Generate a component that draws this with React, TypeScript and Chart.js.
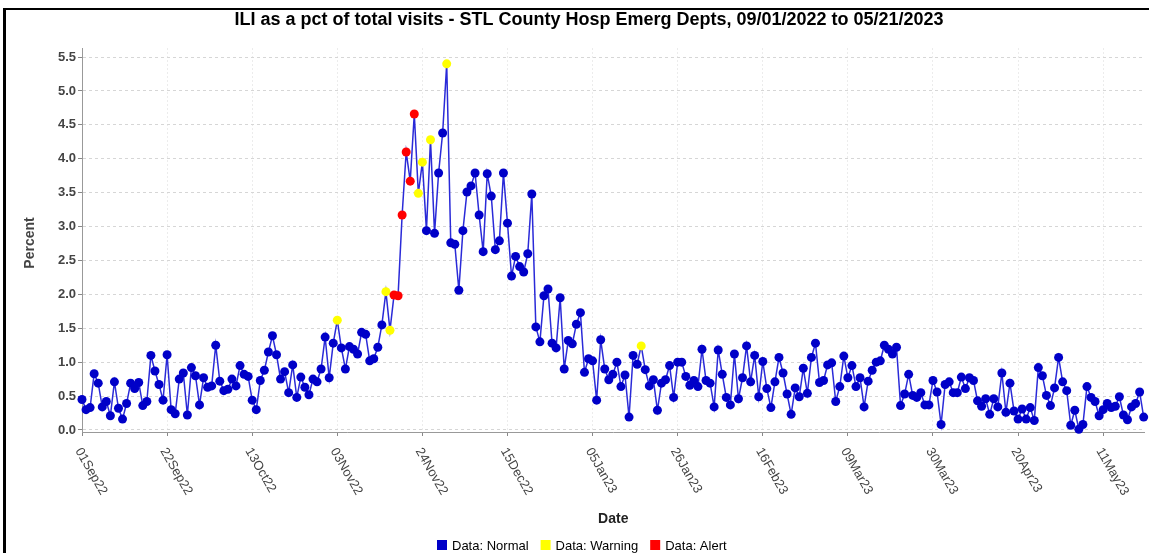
import React, { useEffect, useRef } from "react";
import { Chart, registerables } from "chart.js";

Chart.register(...registerables);

const TITLE = "ILI as a pct of total visits - STL County Hosp Emerg Depts, 09/01/2022 to 05/21/2023";
const Y_TITLE = "Percent";
const X_TITLE = "Date";

// day index (0 = 01Sep22) of each x-axis tick and its label
const tickDays = [0, 21, 42, 63, 84, 105, 126, 147, 168, 189, 210, 231, 252];
const tickLabels = ["01Sep22", "22Sep22", "13Oct22", "03Nov22", "24Nov22", "15Dec22", "05Jan23", "26Jan23", "16Feb23", "09Mar23", "30Mar23", "20Apr23", "11May23"];
const yTicks = [0, 0.5, 1, 1.5, 2, 2.5, 3, 3.5, 4, 4.5, 5, 5.5];

// daily ILI percent, 09/01/2022 .. 05/21/2023
const septValues = [0.45, 0.30, 0.33, 0.83, 0.69, 0.34, 0.42, 0.21, 0.71, 0.32, 0.16, 0.39, 0.69, 0.61, 0.70, 0.36, 0.42, 1.10, 0.87, 0.67, 0.44, 1.11, 0.30, 0.24, 0.75, 0.84, 0.22, 0.92, 0.80, 0.37];
const octValues = [0.77, 0.63, 0.65, 1.25, 0.72, 0.58, 0.60, 0.75, 0.65, 0.95, 0.82, 0.79, 0.44, 0.30, 0.73, 0.88, 1.15, 1.39, 1.11, 0.75, 0.86, 0.55, 0.96, 0.48, 0.78, 0.63, 0.52, 0.75, 0.71, 0.90, 1.37];
const novValues = [0.77, 1.28, 1.62, 1.21, 0.90, 1.23, 1.19, 1.12, 1.44, 1.41, 1.02, 1.05, 1.22, 1.55, 2.04, 1.47, 1.99, 1.98, 3.17, 4.10, 3.67, 4.66, 3.49, 3.95, 2.94, 4.28, 2.90, 3.79, 4.38, 5.40];
const decValues = [2.76, 2.74, 2.06, 2.94, 3.51, 3.60, 3.79, 3.17, 2.63, 3.78, 3.45, 2.66, 2.79, 3.79, 3.05, 2.27, 2.56, 2.41, 2.33, 2.60, 3.48, 1.52, 1.30, 1.98, 2.08, 1.28, 1.21, 1.95, 0.90, 1.32, 1.27];
const janValues = [1.56, 1.73, 0.85, 1.05, 1.02, 0.44, 1.33, 0.90, 0.74, 0.82, 1.00, 0.64, 0.81, 0.19, 1.10, 0.97, 1.24, 0.89, 0.65, 0.74, 0.29, 0.69, 0.74, 0.95, 0.48, 1.00, 1.00, 0.79, 0.66, 0.73, 0.64];
const febValues = [1.19, 0.73, 0.69, 0.34, 1.18, 0.82, 0.48, 0.37, 1.12, 0.46, 0.77, 1.24, 0.71, 1.10, 0.49, 1.01, 0.61, 0.33, 0.71, 1.07, 0.84, 0.53, 0.23, 0.62, 0.49, 0.91, 0.54, 1.07];
const marValues = [1.28, 0.70, 0.73, 0.96, 0.99, 0.42, 0.64, 1.09, 0.77, 0.95, 0.64, 0.77, 0.34, 0.72, 0.88, 1.00, 1.02, 1.25, 1.19, 1.12, 1.22, 0.36, 0.53, 0.82, 0.51, 0.48, 0.55, 0.37, 0.37, 0.73, 0.56];
const aprValues = [0.08, 0.67, 0.71, 0.55, 0.55, 0.78, 0.61, 0.77, 0.73, 0.43, 0.35, 0.46, 0.23, 0.46, 0.34, 0.84, 0.26, 0.69, 0.28, 0.16, 0.31, 0.16, 0.33, 0.14, 0.92, 0.80, 0.51, 0.36, 0.62, 1.07];
const mayValues = [0.71, 0.58, 0.07, 0.29, 0.01, 0.08, 0.64, 0.48, 0.42, 0.21, 0.30, 0.39, 0.33, 0.35, 0.49, 0.22, 0.15, 0.34, 0.39, 0.56, 0.19];

// day indexes flagged Warning / Alert
const warningDays = [63, 75, 76, 83, 84, 86, 90, 138];
const alertDays = [77, 78, 79, 80, 81, 82];

const legendLabels = ["Data: Normal", "Data: Warning", "Data: Alert"];

const values = [...septValues, ...octValues, ...novValues, ...decValues, ...janValues, ...febValues, ...marValues, ...aprValues, ...mayValues];

const BLUE = "#0000c8";
const LINE_BLUE = "#2a2ad8";
const YELLOW = "#ffff00";
const RED = "#ff0000";
const legendColors = [BLUE, YELLOW, RED];
const FONT = '"Liberation Sans", Arial, sans-serif';

const decorPlugin = {
  id: "decor",
  afterDraw(chart: any) {
    const ctx = chart.ctx as CanvasRenderingContext2D;
    const xs = chart.scales.x;
    ctx.save();
    // frame
    ctx.fillStyle = "#000";
    ctx.fillRect(3, 8, 3, 553);
    ctx.fillRect(3, 8, 1146, 2);
    // title
    ctx.fillStyle = "#000";
    ctx.font = `bold 18px ${FONT}`;
    ctx.textAlign = "center";
    ctx.textBaseline = "middle";
    ctx.fillText(TITLE, 589, 20);
    // y title
    ctx.save();
    ctx.translate(30, 243);
    ctx.rotate(-Math.PI / 2);
    ctx.font = `bold 14px ${FONT}`;
    ctx.fillStyle = "#444";
    ctx.fillText(Y_TITLE, 0, 0);
    ctx.restore();
    // x tick labels
    ctx.font = `13px ${FONT}`;
    ctx.fillStyle = "#444";
    ctx.textAlign = "left";
    ctx.textBaseline = "middle";
    tickDays.forEach((d, i) => {
      const px = xs.getPixelForValue(d);
      ctx.save();
      ctx.translate(px - 4, 449);
      ctx.rotate((60 * Math.PI) / 180);
      ctx.fillText(tickLabels[i], 0, 0);
      ctx.restore();
    });
    // x title
    ctx.font = `bold 14px ${FONT}`;
    ctx.fillStyle = "#222";
    ctx.textAlign = "center";
    ctx.fillText(X_TITLE, (chart.chartArea.left + chart.chartArea.right) / 2, 519);
    // legend
    ctx.font = `13px ${FONT}`;
    ctx.textAlign = "left";
    let lx = 437;
    legendLabels.forEach((lab, i) => {
      ctx.fillStyle = legendColors[i];
      ctx.fillRect(lx, 540, 10, 10);
      ctx.fillStyle = "#000";
      ctx.fillText(lab, lx + 15, 546);
      lx += 15 + ctx.measureText(lab).width + 12;
    });
    ctx.restore();
  },
};

export default function App() {
  const ref = useRef<HTMLCanvasElement | null>(null);
  useEffect(() => {
    if (!ref.current) return;
    const points = values.map((v, i) => ({ x: i, y: v }));
    const colors = values.map((_, i) => (alertDays.includes(i) ? RED : warningDays.includes(i) ? YELLOW : BLUE));
    const chart = new Chart(ref.current, {
      type: "line",
      data: {
        datasets: [
          {
            data: points,
            borderColor: LINE_BLUE,
            borderWidth: 1.5,
            pointRadius: 4.5,
            pointBackgroundColor: colors,
            pointBorderColor: colors,
            pointBorderWidth: 0,
            tension: 0,
            clip: false as any,
          },
        ],
      },
      options: {
        animation: false,
        responsive: false,
        devicePixelRatio: 1,
        layout: { padding: { top: 48, left: 0, right: 2, bottom: 0 } },
        plugins: { legend: { display: false }, title: { display: false }, tooltip: { enabled: false } },
        scales: {
          x: {
            type: "linear",
            min: 0,
            max: 262.2,
            afterBuildTicks: (s: any) => {
              s.ticks = tickDays.map((v) => ({ value: v }));
            },
            afterFit: (s: any) => {
              s.height = 121;
            },
            ticks: { display: false },
            grid: { color: "#ececec", tickColor: "#888", tickLength: 4, tickBorderDash: [] },
            border: { color: "#999", width: 1, dash: [2, 2] },
          },
          y: {
            type: "linear",
            min: -0.03,
            max: 5.634,
            afterBuildTicks: (s: any) => {
              s.ticks = yTicks.map((v) => ({ value: v }));
            },
            afterFit: (s: any) => {
              s.width = 82;
            },
            ticks: {
              color: "#444",
              font: { family: FONT, size: 13, weight: "bold" },
              padding: 2,
              callback: (v: any) => Number(v).toFixed(1),
            },
            grid: { color: "#d6d6d6", tickColor: "#888", tickLength: 4, tickBorderDash: [] },
            border: { color: "#999", width: 1, dash: [3, 3] },
          },
        },
      },
      plugins: [decorPlugin],
    });
    return () => chart.destroy();
  }, []);
  return (
    <div style={{ position: "fixed", left: 0, top: 0, width: 1149, height: 553, background: "#fff" }}>
      <canvas ref={ref} width={1149} height={553} style={{ display: "block" }} />
    </div>
  );
}
